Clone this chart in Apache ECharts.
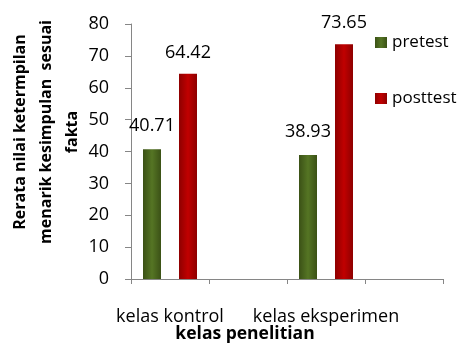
<!DOCTYPE html>
<html lang="en">
  <head>
    <meta charset="UTF-8" />
    <title>Rerata nilai</title>
    <script src="https://cdn.jsdelivr.net/npm/echarts@6.0.0/dist/echarts.min.js"></script>
    <style>
      body { margin: 0; background: #fff; }
    </style>
  </head>
  <body>
    <div id="main" style="width: 463px; height: 345px"></div>
  </body>
  <script type="text/javascript">
    // kelas penelitian (2 empty slots as in the original axis)
    const categories = ["kelas kontrol", "", "kelas eksperimen", ""];
    const pretest = [40.71, "-", 38.93, "-"];
    const posttest = [64.42, "-", 73.65, "-"];
    const yTicks = { min: 0, max: 80, interval: 10 };

    const font = "Open Sans";
    const axisGrey = "#868686";

    function barColor(edge, mid) {
      return new echarts.graphic.LinearGradient(0, 0, 1, 0, [
        { offset: 0, color: edge },
        { offset: 0.5, color: mid },
        { offset: 1, color: edge },
      ]);
    }

    var myChart = echarts.init(document.getElementById("main"));
    var option = {
      animation: false,
      textStyle: { fontFamily: font },
      grid: { left: 131, right: 20, top: 24, bottom: 66 },
      legend: {
        orient: "vertical",
        left: 375,
        top: 34,
        padding: 0,
        itemGap: 39,
        itemWidth: 12,
        itemHeight: 11,
        icon: "rect",
        textStyle: { fontFamily: font, fontSize: 17, color: "#000" },
        data: ["pretest", "posttest"],
      },
      xAxis: {
        type: "category",
        data: categories,
        axisLine: { lineStyle: { color: axisGrey } },
        axisTick: { show: true, interval: 0, length: 5, lineStyle: { color: axisGrey } },
        axisLabel: { interval: 0, margin: 29, fontSize: 18, color: "#000", fontFamily: font },
      },
      yAxis: {
        type: "value",
        min: yTicks.min,
        max: yTicks.max,
        interval: yTicks.interval,
        splitLine: { show: false },
        axisLine: { show: true, lineStyle: { color: axisGrey } },
        axisTick: { show: true, length: 6, lineStyle: { color: axisGrey } },
        axisLabel: { margin: 22, fontSize: 18, color: "#000", fontFamily: font },
      },
      series: [
        {
          name: "pretest",
          type: "bar",
          data: pretest,
          barWidth: 18,
          barGap: "100%",
          itemStyle: { color: barColor("#3b5116", "#557524") },
          label: { show: true, position: "top", distance: 14, fontSize: 18, color: "#000", fontFamily: font },
        },
        {
          name: "posttest",
          type: "bar",
          data: posttest,
          barWidth: 18,
          barGap: "100%",
          itemStyle: { color: barColor("#8e0000", "#c00000") },
          label: { show: true, position: "top", distance: 12, fontSize: 18, color: "#000", fontFamily: font },
        },
      ],
      graphic: [
        {
          type: "text",
          x: 46,
          y: 132,
          rotation: Math.PI / 2,
          style: {
            text: "Rerata nilai ketermpilan\nmenarik kesimpulan  sesuai\nfakta",
            font: "bold 16px 'Open Sans'",
            fill: "#000",
            align: "center",
            verticalAlign: "middle",
            lineHeight: 26,
          },
        },
        {
          type: "text",
          x: 245,
          y: 334,
          style: {
            text: "kelas penelitian",
            font: "bold 17.5px 'Open Sans'",
            fill: "#000",
            align: "center",
            verticalAlign: "middle",
          },
        },
      ],
    };

    option && myChart.setOption(option);
  </script>
</html>
